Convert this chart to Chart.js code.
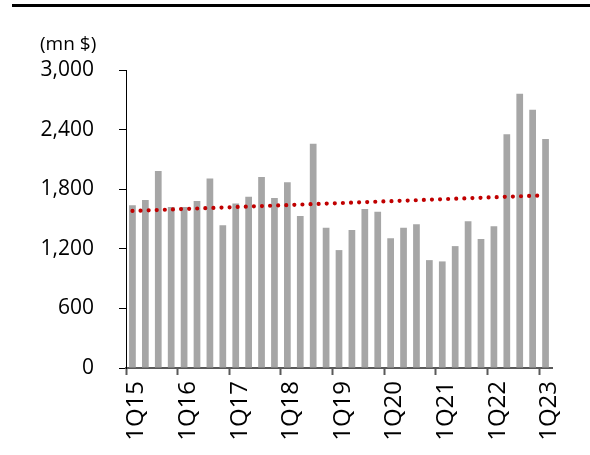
<!DOCTYPE html>
<html>
<head>
<meta charset="utf-8">
<script src="https://cdn.jsdelivr.net/npm/chart.js@4.4.0/dist/chart.umd.min.js"></script>
<style>
  html, body { margin: 0; padding: 0; background: #fff; }
  #wrap { position: relative; width: 590px; height: 455px; overflow: hidden; }
  #rule { position: absolute; left: 12px; right: 0; top: 4px; height: 3px; background: #000; }
  #c { position: absolute; left: 0; top: 0; }
</style>
</head>
<body>
<div id="wrap">
  <div id="rule"></div>
  <canvas id="c" width="590" height="455"></canvas>
</div>
<script>
// Quarterly values, mn $
const quarters = [
  '1Q15', '2Q15', '3Q15', '4Q15',
  '1Q16', '2Q16', '3Q16', '4Q16',
  '1Q17', '2Q17', '3Q17', '4Q17',
  '1Q18', '2Q18', '3Q18', '4Q18',
  '1Q19', '2Q19', '3Q19', '4Q19',
  '1Q20', '2Q20', '3Q20', '4Q20',
  '1Q21', '2Q21', '3Q21', '4Q21',
  '1Q22', '2Q22', '3Q22', '4Q22',
  '1Q23'
];
const values = [
  1638, 1692, 1982, 1621,
  1621, 1682, 1907, 1436,
  1655, 1725, 1924, 1712,
  1871, 1530, 2258, 1412,
  1187, 1389, 1601, 1574,
  1305, 1412, 1446, 1086,
  1073, 1227, 1477, 1298,
  1426, 2352, 2760, 2601,
  2305
];
// Linear trend: start and end points (x in quarter-index units)
const trendX = [0, 31.5];
const trendY = [1581, 1736];
const yTickValues = [0, 600, 1200, 1800, 2400, 3000];

const FONT = '"Open Sans", "Noto Sans", sans-serif';

new Chart(document.getElementById('c'), {
  type: 'bar',
  data: {
    datasets: [
      {
        type: 'line',
        data: trendX.map((x, i) => ({ x: x, y: trendY[i] })),
        borderColor: '#c00000',
        borderWidth: 4.2,
        borderDash: [0, 8.1],
        borderCapStyle: 'round',
        pointRadius: 0,
        fill: false,
        tension: 0,
        order: 0
      },
      {
        type: 'bar',
        data: values.map((v, i) => ({ x: i, y: v })),
        backgroundColor: '#a6a6a6',
        barPercentage: 0.52,
        categoryPercentage: 1.0,
        grouped: false,
        order: 1
      }
    ]
  },
  options: {
    responsive: false,
    animation: false,
    locale: 'en-US',
    layout: { padding: { left: 40, right: 38, top: 0, bottom: 0 } },
    plugins: {
      legend: { display: false },
      tooltip: { enabled: false },
      title: {
        display: true,
        text: '(mn $)',
        align: 'start',
        color: '#000',
        font: { family: FONT, size: 19, weight: 'normal', lineHeight: 1.2 },
        padding: { top: 33.6, bottom: 13.6 }
      }
    },
    scales: {
      x: {
        type: 'linear',
        offset: false,
        min: -0.5,
        max: quarters.length - 0.5,
        afterBuildTicks: s => { s.ticks = quarters.map((q, i) => ({ value: i })); },
        grid: {
          offset: true,
          drawOnChartArea: false,
          tickLength: 7,
          tickWidth: 2,
          tickColor: ctx => (ctx.index < quarters.length && ctx.index % 4 === 0) ? '#595959' : 'rgba(0,0,0,0)'
        },
        border: { color: '#595959', width: 2 },
        ticks: {
          autoSkip: false,
          minRotation: 90,
          maxRotation: 90,
          padding: 6,
          labelOffset: 4,
          color: '#000',
          font: { family: FONT, size: 24 },
          callback: (v, i) => quarters[i].startsWith('1Q') ? quarters[i] : ''
        },
        afterFit: s => { s.height = 87; }
      },
      y: {
        min: 0,
        max: 3000,
        afterBuildTicks: s => { s.ticks = yTickValues.map(v => ({ value: v })); },
        grid: {
          drawOnChartArea: false,
          tickLength: 7,
          color: '#000',
          tickColor: '#000'
        },
        border: { color: '#000', width: 1 },
        ticks: {
          padding: 25,
          color: '#000',
          font: { family: FONT, size: 21 }
        },
        afterFit: s => { s.width = 86; }
      }
    }
  }
});
</script>
</body>
</html>
